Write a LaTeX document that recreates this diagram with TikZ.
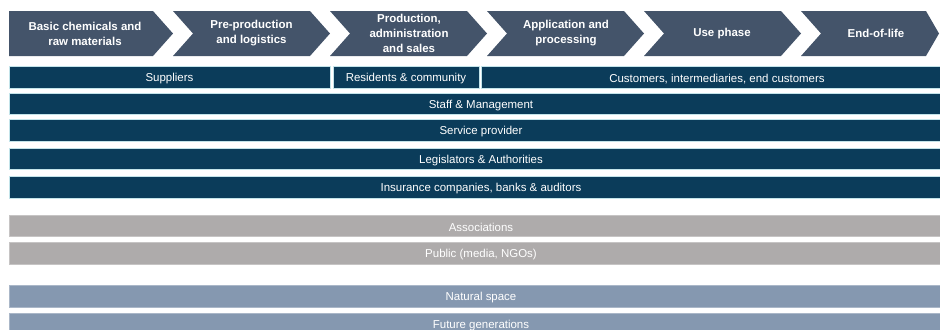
\documentclass[tikz,border=0pt]{standalone}
\usepackage{fontspec}
\setmainfont{Liberation Sans}
\usetikzlibrary{calc}
\definecolor{chevgray}{HTML}{44546A}
\definecolor{stakeblue}{HTML}{0B3C5A}
\definecolor{stakeline}{HTML}{C3E4EA}
\definecolor{assocgray}{HTML}{AEABAB}
\definecolor{natureblue}{HTML}{8598B0}
\tikzset{
	phase/.style={text=white, align=center, font=\bfseries\fontsize{8.6}{11.2}\selectfont},
	bartext/.style={text=white, yshift=-1.2pt, font=\fontsize{8.6}{10}\selectfont},
	stakebar/.style={fill=stakeblue, draw=stakeline, line width=0.6pt},
	assocbar/.style={fill=assocgray, draw=assocgray!70, line width=0.6pt},
	naturebar/.style={fill=natureblue, draw=natureblue!70, line width=0.6pt}
}
\def\phasearrow[#1](#2:#3:#4:#5){\fill[#1] (#2, 11) -- ({#3-#5}, 11) -- (#3, 33.5) -- ({#3-#5}, 56) -- (#2, 56) -- ({#2+#4}, 33.5) -- cycle;}

\begin{document}
\begin{tikzpicture}[x=0.75pt, y=-0.75pt]
			%%%%% START %%%%%
			
			\useasboundingbox (0, 0) rectangle (940, 329);
			\clip (0, 0) rectangle (940, 329);
			
			\phasearrow[chevgray](9:173:0:20)
			\phasearrow[chevgray](173:330:20:20)
			\phasearrow[chevgray](330:487:20:20)
			\phasearrow[chevgray](487:644:20:20)
			\phasearrow[chevgray](644:801:20:20)
			\phasearrow[chevgray](801:939:20:13)
			
			\node[phase] (basic) at (85, 33.5) {Basic chemicals and\\raw materials};
			\node[phase] (preprod) at (251.5, 33.5) {Pre-production\\and logistics};
			\node[phase] (prod) at (409, 33.5) {Production,\\administration\\and sales};
			\node[phase] (appl) at (566, 33.5) {Application and\\processing};
			\node[phase] (use) at (722, 33.5) {Use phase};
			\node[phase] (eol) at (876, 33.5) {End-of-life};
			
			\draw[stakebar] (9, 66) rectangle (330, 88) node[midway, bartext] (suppliers) {Suppliers};
			\draw[stakebar] (333, 66) rectangle (479, 88) node[midway, bartext] (residents) {Residents \& community};
			\draw[stakebar] (481, 66) rectangle (953, 88) node[midway, bartext] (customers) {Customers, intermediaries, end customers};
			
			\draw[stakebar] (9, 93) rectangle (953, 114) node[midway, bartext] (staff) {Staff \& Management};
			\draw[stakebar] (9, 119) rectangle (953, 141) node[midway, bartext] (service) {Service provider};
			\draw[stakebar] (9, 148) rectangle (953, 169) node[midway, bartext] (legislators) {Legislators \& Authorities};
			\draw[stakebar] (9, 176) rectangle (953, 198) node[midway, bartext] (insurance) {Insurance companies, banks \& auditors};
			
			\draw[assocbar] (9, 215) rectangle (953, 236) node[midway, bartext] (associations) {Associations};
			\draw[assocbar] (9, 242) rectangle (953, 264) node[midway, bartext] (public) {Public (media, NGOs)};
			
			\draw[naturebar] (9, 285) rectangle (953, 307) node[midway, bartext] (nature) {Natural space};
			\draw[naturebar] (9, 313) rectangle (953, 335) node[midway, bartext] (future) {Future generations};
			
			%%%%% END %%%%%
\end{tikzpicture}
\end{document}
